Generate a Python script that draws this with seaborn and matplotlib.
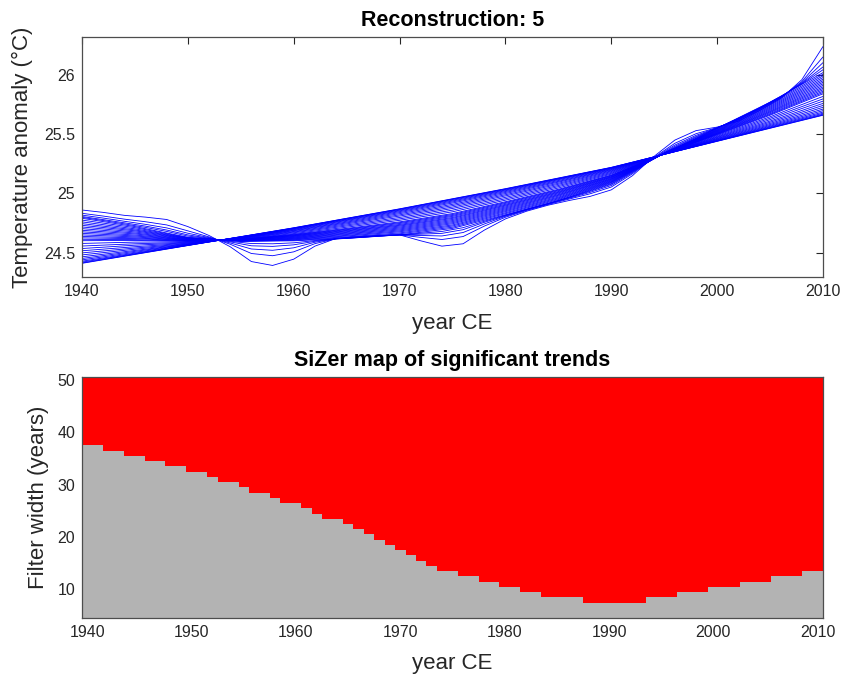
import numpy as np
import pandas as pd
import matplotlib
matplotlib.use("Agg")
import matplotlib.pyplot as plt
import seaborn as sns
from matplotlib.colors import ListedColormap

# ---------------- top panel: smoothed reconstructions, one curve per filter width ----------------
years2 = list(range(1940, 2011, 2))   # sample years of the narrow (wiggly) curves
years5 = list(range(1940, 2011, 5))   # sample years of the wider, smoother curves

fw05 = [24.860, 24.840, 24.815, 24.800, 24.780, 24.720, 24.645, 24.550, 24.425, 24.392,
        24.445, 24.555, 24.620, 24.635, 24.645, 24.650, 24.600, 24.555, 24.575, 24.690,
        24.785, 24.850, 24.900, 24.940, 24.975, 25.030, 25.150, 25.310, 25.450, 25.530,
        25.560, 25.610, 25.700, 25.800, 25.960, 26.240]
fw06 = [24.832, 24.809, 24.783, 24.761, 24.734, 24.684, 24.633, 24.571, 24.493, 24.474,
        24.507, 24.576, 24.618, 24.631, 24.642, 24.650, 24.629, 24.611, 24.636, 24.724,
        24.799, 24.857, 24.906, 24.952, 24.997, 25.054, 25.166, 25.302, 25.423, 25.504,
        25.556, 25.621, 25.710, 25.808, 25.944, 26.152]
fw07 = [24.817, 24.792, 24.765, 24.739, 24.709, 24.664, 24.627, 24.582, 24.531, 24.520,
        24.541, 24.588, 24.618, 24.629, 24.641, 24.650, 24.645, 24.641, 24.670, 24.742,
        24.807, 24.861, 24.910, 24.959, 25.009, 25.067, 25.175, 25.298, 25.408, 25.490,
        25.554, 25.627, 25.716, 25.812, 25.935, 26.104]
fw08 = [24.805, 24.779, 24.752, 24.724, 24.691, 24.650, 24.622, 24.591, 24.558, 24.553,
        24.566, 24.596, 24.617, 24.628, 24.640, 24.650, 24.656, 24.663, 24.694, 24.756,
        24.812, 24.864, 24.912, 24.963, 25.018, 25.077, 25.181, 25.294, 25.397, 25.480,
        25.552, 25.632, 25.720, 25.816, 25.929, 26.068]
fw09 = [24.798, 24.771, 24.743, 24.713, 24.679, 24.640, 24.619, 24.596, 24.577, 24.575,
        24.583, 24.602, 24.616, 24.627, 24.639, 24.650, 24.664, 24.679, 24.711, 24.765,
        24.816, 24.866, 24.914, 24.967, 25.024, 25.083, 25.186, 25.292, 25.389, 25.473,
        25.551, 25.635, 25.723, 25.818, 25.924, 26.044]

fw10 = [24.790, 24.720, 24.630, 24.595, 24.600, 24.620, 24.650, 24.705, 24.820, 24.940, 25.090, 25.340, 25.550, 25.770, 26.020]
fw11 = [24.775, 24.711, 24.627, 24.597, 24.604, 24.627, 24.659, 24.715, 24.829, 24.948, 25.095, 25.340, 25.546, 25.761, 26.006]
fw12 = [24.760, 24.701, 24.624, 24.598, 24.609, 24.633, 24.667, 24.725, 24.837, 24.955, 25.100, 25.339, 25.541, 25.753, 25.992]
fw13 = [24.745, 24.692, 24.622, 24.600, 24.613, 24.640, 24.676, 24.734, 24.846, 24.962, 25.105, 25.339, 25.537, 25.744, 25.978]
fw14 = [24.731, 24.684, 24.619, 24.601, 24.617, 24.646, 24.684, 24.744, 24.854, 24.969, 25.110, 25.338, 25.533, 25.736, 25.964]
fw15 = [24.717, 24.675, 24.617, 24.603, 24.621, 24.653, 24.692, 24.753, 24.862, 24.977, 25.115, 25.338, 25.529, 25.728, 25.951]
fw16 = [24.703, 24.666, 24.614, 24.604, 24.625, 24.659, 24.700, 24.762, 24.870, 24.984, 25.120, 25.338, 25.525, 25.720, 25.938]
fw17 = [24.689, 24.658, 24.611, 24.606, 24.629, 24.665, 24.708, 24.771, 24.878, 24.990, 25.124, 25.337, 25.521, 25.712, 25.925]
fw18 = [24.676, 24.649, 24.609, 24.607, 24.633, 24.671, 24.716, 24.780, 24.886, 24.997, 25.129, 25.337, 25.517, 25.704, 25.912]
fw19 = [24.663, 24.641, 24.607, 24.608, 24.637, 24.677, 24.724, 24.789, 24.894, 25.004, 25.134, 25.337, 25.513, 25.696, 25.899]
fw20 = [24.650, 24.633, 24.604, 24.610, 24.641, 24.683, 24.731, 24.797, 24.901, 25.010, 25.138, 25.336, 25.509, 25.689, 25.887]
fw21 = [24.637, 24.625, 24.602, 24.611, 24.644, 24.688, 24.738, 24.806, 24.908, 25.016, 25.142, 25.336, 25.506, 25.682, 25.875]
fw22 = [24.625, 24.618, 24.600, 24.612, 24.648, 24.694, 24.746, 24.814, 24.916, 25.023, 25.147, 25.336, 25.502, 25.674, 25.863]
fw23 = [24.613, 24.610, 24.597, 24.614, 24.651, 24.699, 24.753, 24.822, 24.923, 25.029, 25.151, 25.335, 25.499, 25.667, 25.852]
fw24 = [24.601, 24.603, 24.595, 24.615, 24.655, 24.705, 24.760, 24.830, 24.930, 25.035, 25.155, 25.335, 25.495, 25.660, 25.841]
fw26 = [24.578, 24.589, 24.591, 24.617, 24.661, 24.715, 24.773, 24.845, 24.943, 25.046, 25.163, 25.334, 25.489, 25.647, 25.819]
fw28 = [24.556, 24.575, 24.587, 24.620, 24.668, 24.725, 24.785, 24.859, 24.955, 25.057, 25.170, 25.334, 25.482, 25.635, 25.798]
fw30 = [24.535, 24.563, 24.583, 24.622, 24.674, 24.734, 24.797, 24.873, 24.967, 25.067, 25.177, 25.333, 25.476, 25.623, 25.779]
fw32 = [24.516, 24.550, 24.580, 24.624, 24.679, 24.743, 24.809, 24.885, 24.979, 25.077, 25.184, 25.333, 25.471, 25.611, 25.760]
fw34 = [24.498, 24.539, 24.576, 24.626, 24.685, 24.751, 24.819, 24.897, 24.989, 25.086, 25.190, 25.332, 25.465, 25.601, 25.743]
fw36 = [24.481, 24.529, 24.573, 24.628, 24.689, 24.758, 24.829, 24.908, 24.999, 25.095, 25.196, 25.332, 25.461, 25.591, 25.727]
fw38 = [24.465, 24.519, 24.570, 24.629, 24.694, 24.765, 24.838, 24.919, 25.008, 25.102, 25.201, 25.331, 25.456, 25.582, 25.712]
fw40 = [24.451, 24.511, 24.568, 24.631, 24.698, 24.772, 24.846, 24.928, 25.016, 25.109, 25.206, 25.331, 25.452, 25.574, 25.699]
fw42 = [24.439, 24.503, 24.565, 24.632, 24.702, 24.777, 24.853, 24.936, 25.023, 25.116, 25.210, 25.331, 25.448, 25.567, 25.687]
fw44 = [24.428, 24.496, 24.563, 24.633, 24.705, 24.782, 24.859, 24.943, 25.029, 25.121, 25.214, 25.330, 25.445, 25.561, 25.677]
fw46 = [24.420, 24.491, 24.562, 24.634, 24.707, 24.786, 24.864, 24.949, 25.034, 25.125, 25.217, 25.330, 25.443, 25.556, 25.669]
fw48 = [24.413, 24.487, 24.561, 24.635, 24.709, 24.789, 24.868, 24.953, 25.038, 25.128, 25.219, 25.330, 25.441, 25.552, 25.663]
fw50 = [24.410, 24.485, 24.560, 24.635, 24.710, 24.790, 24.870, 24.955, 25.040, 25.130, 25.220, 25.330, 25.440, 25.550, 25.660]

# ---------------- bottom panel: SiZer map ----------------
map_years = list(range(1940, 2011))
filter_widths = list(range(5, 51))
# largest filter width (per year) whose trend is NOT significant (grey); wider ones are red
grey_top = [37, 37, 36, 36, 35, 35, 34, 34, 33, 33,
            32, 32, 31, 30, 30, 29, 28, 28, 27, 26,
            26, 25, 24, 23, 23, 22, 21, 20, 19, 18,
            17, 16, 15, 14, 13, 13, 12, 12, 11, 11,
            10, 10, 9, 9, 8, 8, 8, 8, 7, 7,
            7, 7, 7, 7, 8, 8, 8, 9, 9, 9,
            10, 10, 10, 11, 11, 11, 12, 12, 12, 13, 13]

x_ticks = [1940, 1950, 1960, 1970, 1980, 1990, 2000, 2010]
temp_ticks = [24.5, 25, 25.5, 26]
temp_tick_labels = ["24.5", "25", "25.5", "26"]
width_ticks = [10, 20, 30, 40, 50]

# ---------------- build tables ----------------
curves = {5: (years2, fw05), 6: (years2, fw06), 7: (years2, fw07), 8: (years2, fw08),
          9: (years2, fw09), 10: (years5, fw10), 11: (years5, fw11), 12: (years5, fw12),
          13: (years5, fw13), 14: (years5, fw14), 15: (years5, fw15), 16: (years5, fw16),
          17: (years5, fw17), 18: (years5, fw18), 19: (years5, fw19), 20: (years5, fw20),
          21: (years5, fw21), 22: (years5, fw22), 23: (years5, fw23), 24: (years5, fw24),
          26: (years5, fw26), 28: (years5, fw28), 30: (years5, fw30), 32: (years5, fw32),
          34: (years5, fw34), 36: (years5, fw36), 38: (years5, fw38), 40: (years5, fw40),
          42: (years5, fw42), 44: (years5, fw44), 46: (years5, fw46), 48: (years5, fw48),
          50: (years5, fw50)}
rows = []
for w, (xs, ys) in curves.items():
    for x, y in zip(xs, ys):
        rows.append((w, x, y))
df = pd.DataFrame(rows, columns=["width", "year", "temp"])

Z = pd.DataFrame([[1 if w > t else 0 for t in grey_top] for w in filter_widths],
                 index=filter_widths, columns=map_years)

# ---------------- figure ----------------
sns.set_theme(style="white")
plt.rcParams["font.family"] = ["Liberation Sans", "DejaVu Sans"]
TXT = "#262626"

fig = plt.figure(figsize=(8.43, 6.77), dpi=100)
ax1 = fig.add_axes([82 / 843, 1 - 277.3 / 677, 741 / 843, 240 / 677])
ax2 = fig.add_axes([82 / 843, 1 - 618.3 / 677, 741 / 843, 241 / 677])

sns.lineplot(data=df, x="year", y="temp", hue="width",
             palette={w: "#0000ff" for w in curves}, estimator=None,
             legend=False, linewidth=0.6, ax=ax1)
ax1.set_xlim(1940, 2010)
ax1.set_ylim(24.292, 26.318)
ax1.set_xticks(x_ticks)
ax1.set_xticklabels([str(y) for y in x_ticks])
ax1.set_yticks(temp_ticks)
ax1.set_yticklabels(temp_tick_labels)
ax1.set_title("Reconstruction: 5", fontsize=15.5, fontweight="bold", pad=8, color="black")
ax1.set_xlabel("year CE", fontsize=16, color=TXT, labelpad=10)
ax1.set_ylabel("Temperature anomaly (\u00b0C)", fontsize=16, color=TXT, labelpad=8)

sns.heatmap(Z, ax=ax2, cmap=ListedColormap(["#b3b3b3", "#ff0000"]), vmin=0, vmax=1,
            cbar=False, xticklabels=False, yticklabels=False)
ax2.set_xlim(0, len(map_years))
ax2.set_ylim(0, len(filter_widths))
ax2.set_xticks([map_years.index(y) + 0.5 for y in x_ticks])
ax2.set_xticklabels([str(y) for y in x_ticks], rotation=0)
ax2.set_yticks([filter_widths.index(w) + 0.5 for w in width_ticks])
ax2.set_yticklabels([str(w) for w in width_ticks], rotation=0)
ax2.set_title("SiZer map of significant trends", fontsize=15.5, fontweight="bold", pad=8, color="black")
ax2.set_xlabel("year CE", fontsize=16, color=TXT, labelpad=9)
ax2.set_ylabel("Filter width (years)", fontsize=16, color=TXT, labelpad=6)

for ax in (ax1, ax2):
    for s in ax.spines.values():
        s.set_visible(True)
        s.set_color("#4d4d4d")
        s.set_linewidth(0.9)
    ax.tick_params(direction="in", top=True, right=True, length=5, width=0.8,
                   color="#262626", labelcolor=TXT, labelsize=11.5, pad=5)

fig.savefig("out.png", dpi=100)
